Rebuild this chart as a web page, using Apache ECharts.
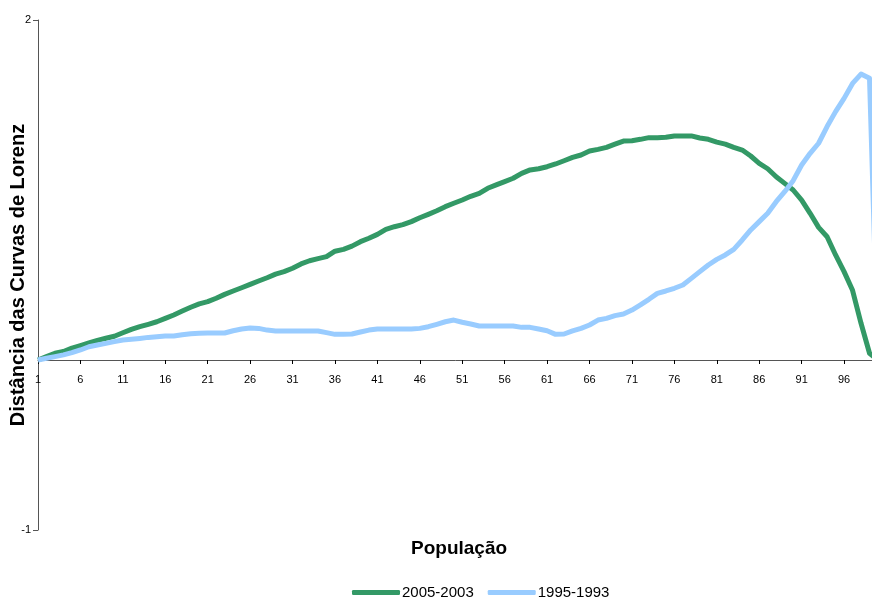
<!DOCTYPE html>
<html>
<head>
<meta charset="utf-8">
<script src="https://cdn.jsdelivr.net/npm/echarts@6/dist/echarts.min.js"></script>
<style>
  html, body { margin: 0; padding: 0; background: #fff; }
  #chart { width: 872px; height: 601px; }
</style>
</head>
<body>
<div id="chart"></div>
<script>
// categorias 1..100
const categories = [];
for (let k = 1; k <= 100; k++) categories.push(String(k));

const seriesNames = ['2005-2003', '1995-1993'];

// valores
const green0503 = [
  0, 0.02, 0.04, 0.05, 0.07, 0.085, 0.10, 0.115, 0.128, 0.14,
  0.16, 0.18, 0.196, 0.21, 0.225, 0.245, 0.265, 0.288, 0.31, 0.33,
  0.343, 0.363, 0.386, 0.406, 0.425, 0.445, 0.465, 0.484, 0.505, 0.52,
  0.54, 0.565, 0.584, 0.596, 0.608, 0.64, 0.651, 0.67, 0.696, 0.716,
  0.739, 0.769, 0.784, 0.796, 0.814, 0.837, 0.857, 0.878, 0.902, 0.922,
  0.941, 0.963, 0.98, 1.01, 1.03, 1.049, 1.069, 1.098, 1.118, 1.125,
  1.137, 1.153, 1.172, 1.192, 1.206, 1.229, 1.239, 1.251, 1.27, 1.288,
  1.29, 1.298, 1.308, 1.308, 1.31, 1.318, 1.318, 1.318, 1.306, 1.298,
  1.282, 1.27, 1.251, 1.235, 1.2, 1.157, 1.125, 1.078, 1.039, 1.0,
  0.941, 0.863, 0.78, 0.725, 0.618, 0.52, 0.41, 0.216, 0.04, 0
];

const blue9593 = [
  0, 0.01, 0.02, 0.03, 0.043, 0.059, 0.078, 0.088, 0.098, 0.108,
  0.118, 0.122, 0.127, 0.133, 0.137, 0.141, 0.141, 0.149, 0.155, 0.157,
  0.159, 0.159, 0.159, 0.172, 0.182, 0.188, 0.186, 0.176, 0.171, 0.171,
  0.171, 0.171, 0.171, 0.171, 0.161, 0.151, 0.151, 0.153, 0.165, 0.176,
  0.182, 0.182, 0.182, 0.182, 0.182, 0.186, 0.196, 0.21, 0.225, 0.235,
  0.222, 0.212, 0.2, 0.2, 0.2, 0.2, 0.2, 0.192, 0.192, 0.182,
  0.172, 0.151, 0.153, 0.171, 0.186, 0.206, 0.235, 0.245, 0.261, 0.271,
  0.294, 0.324, 0.357, 0.392, 0.406, 0.422, 0.441, 0.48, 0.52, 0.559,
  0.592, 0.618, 0.651, 0.706, 0.765, 0.814, 0.863, 0.931, 0.99, 1.055,
  1.147, 1.216, 1.275, 1.373, 1.461, 1.539, 1.627, 1.682, 1.657, 0
];

const yTickValues = [-1, 2];

const chart = echarts.init(document.getElementById('chart'));
const fontFamily = "'Liberation Sans', Arial, sans-serif";
const axisColor = '#555555';

chart.setOption({
  animation: false,
  backgroundColor: '#ffffff',
  title: {
    text: 'População',
    left: 411,
    top: 539,
    padding: 0,
    textStyle: { fontFamily: fontFamily, fontSize: 19, fontWeight: 'bold', color: '#000' }
  },
  grid: { left: 38, top: 20, right: -6, bottom: 71, containLabel: false, outerBoundsMode: 'none' },
  legend: {
    data: seriesNames,
    left: 352,
    top: 585,
    padding: 0,
    itemWidth: 48,
    itemHeight: 5,
    itemGap: 14,
    icon: 'roundRect',
    textStyle: {
      fontFamily: "'Liberation Sans Narrow', 'Arial Narrow', 'Liberation Sans', sans-serif",
      fontSize: 15,
      color: '#000',
      padding: [0, 0, 0, -3]
    }
  },
  xAxis: {
    type: 'category',
    data: categories,
    boundaryGap: false,
    axisLine: { onZero: true, lineStyle: { color: axisColor, width: 1 } },
    axisTick: { interval: 4, length: 4, lineStyle: { color: '#000' } },
    axisLabel: { interval: 4, margin: -156, fontFamily: fontFamily, fontSize: 11, color: '#000' },
    splitLine: { show: false }
  },
  yAxis: {
    type: 'value',
    min: -1,
    max: 2,
    interval: 1,
    name: 'Distância das Curvas de Lorenz',
    nameLocation: 'middle',
    nameGap: 10,
    nameMoveOverlap: false,
    nameTextStyle: { fontFamily: fontFamily, fontSize: 20, fontWeight: 'bold', color: '#000' },
    axisLine: { show: true, lineStyle: { color: axisColor, width: 1 } },
    axisTick: { show: true, length: 5, customValues: yTickValues, lineStyle: { color: axisColor } },
    axisLabel: { customValues: yTickValues, margin: 7, fontFamily: fontFamily, fontSize: 11, color: '#000' },
    splitLine: { show: false }
  },
  series: [
    {
      name: seriesNames[0],
      type: 'line',
      data: green0503,
      showSymbol: false,
      symbol: 'none',
      color: '#339966',
      lineStyle: { width: 5, color: '#339966', join: 'round' }
    },
    {
      name: seriesNames[1],
      type: 'line',
      data: blue9593,
      showSymbol: false,
      symbol: 'none',
      color: '#99ccff',
      lineStyle: { width: 5, color: '#99ccff', join: 'round' }
    }
  ]
});
</script>
</body>
</html>
